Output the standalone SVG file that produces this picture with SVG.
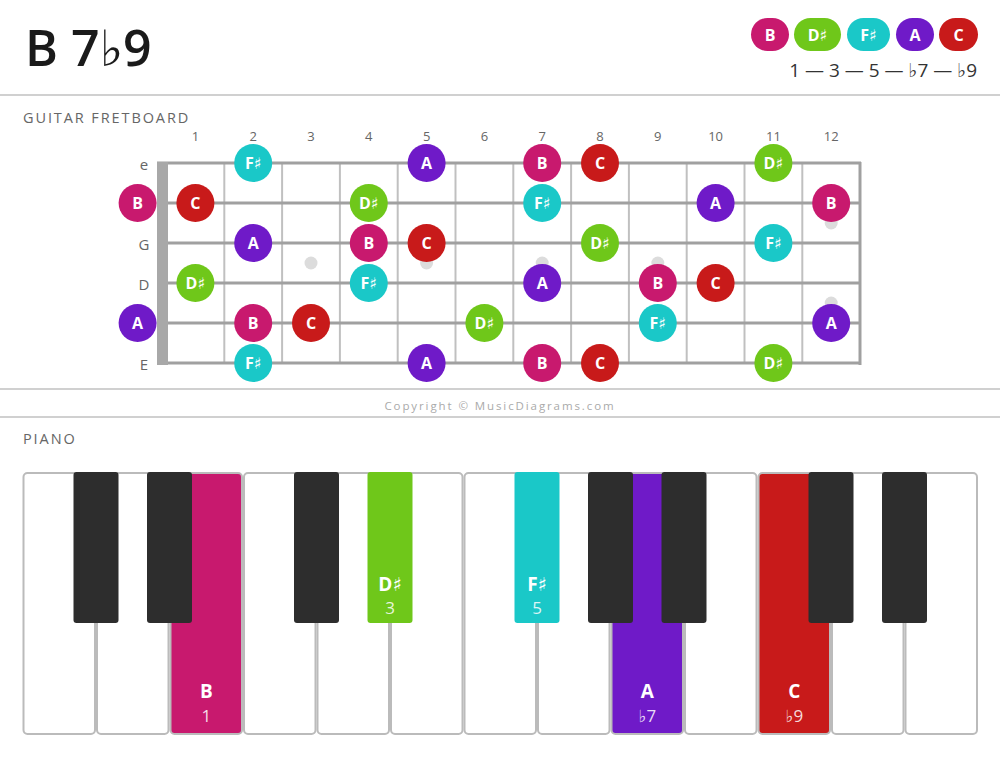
<svg xmlns="http://www.w3.org/2000/svg" width="1000" height="759" viewBox="0 0 1000 759">
<style>
text{font-family:"Open Sans","Noto Sans","DejaVu Sans",sans-serif}
.sep{stroke:#d0d0d0;stroke-width:2}
.sec{font-size:14.5px;fill:#666;letter-spacing:1.9px}
.fn{font-size:13px;fill:#666;text-anchor:middle}
.sl{font-size:15px;fill:#666;text-anchor:middle;dominant-baseline:central}
.str{stroke:#a0a0a0;stroke-width:3}
.fret{stroke:#c0c0c0;stroke-width:2}
.dot{fill:#dcdcdc}
.nt{font-size:16px;font-weight:bold;fill:#fff;text-anchor:middle;dominant-baseline:central}
.wk{fill:#fff;stroke:#bbb;stroke-width:2}
.bk{fill:#2d2d2d}
.cB{fill:#c8196e}.cD{fill:#6fc71a}.cF{fill:#1ac8c8}.cA{fill:#6f1ac8}.cC{fill:#c81a1a}
.pl{font-size:19px;font-weight:bold;fill:#fff;text-anchor:middle}
.pn{font-size:17px;fill:#fff;fill-opacity:0.85;text-anchor:middle}
</style>
<rect width="1000" height="759" fill="#fff"/>
<g id="title"><text x="25" y="66" font-size="50" font-weight="600" fill="#1a1a1a">B 7♭9</text></g>
<g id="legend">
<rect x="751" y="18" width="38" height="33" rx="16.5" class="cB"/><text x="770" y="34.5" class="nt">B</text>
<rect x="794" y="18" width="47" height="33" rx="16.5" class="cD"/><text x="817.5" y="34.5" class="nt">D♯</text>
<rect x="847" y="18" width="43" height="33" rx="16.5" class="cF"/><text x="868.5" y="34.5" class="nt">F♯</text>
<rect x="896" y="18" width="38" height="33" rx="16.5" class="cA"/><text x="915" y="34.5" class="nt">A</text>
<rect x="939" y="18" width="39" height="33" rx="16.5" class="cC"/><text x="958.5" y="34.5" class="nt">C</text>
<text x="977" y="77" font-size="19" fill="#333" text-anchor="end">1 — 3 — 5 — ♭7 — ♭9</text>
</g>
<line x1="0" y1="95" x2="1000" y2="95" class="sep"/>
<text x="23" y="123" class="sec">GUITAR FRETBOARD</text>
<g id="fretboard">
<g id="fret-numbers">
<text x="195.4" y="141" class="fn">1</text><text x="253.2" y="141" class="fn">2</text><text x="311" y="141" class="fn">3</text><text x="368.8" y="141" class="fn">4</text><text x="426.6" y="141" class="fn">5</text><text x="484.4" y="141" class="fn">6</text><text x="542.2" y="141" class="fn">7</text><text x="600" y="141" class="fn">8</text><text x="657.8" y="141" class="fn">9</text><text x="715.6" y="141" class="fn">10</text><text x="773.4" y="141" class="fn">11</text><text x="831.2" y="141" class="fn">12</text>
</g>
<g id="string-labels">
<text x="144" y="164" class="sl">e</text><text x="144" y="244" class="sl">G</text><text x="144" y="284" class="sl">D</text><text x="144" y="364" class="sl">E</text>
</g>
<g id="dots">
<circle cx="311" cy="263" r="6.5" class="dot"/><circle cx="426.6" cy="263" r="6.5" class="dot"/><circle cx="542.2" cy="263" r="6.5" class="dot"/><circle cx="657.8" cy="263" r="6.5" class="dot"/><circle cx="831.2" cy="223" r="6.5" class="dot"/><circle cx="831.2" cy="303" r="6.5" class="dot"/>
</g>
<g id="frets">
<line x1="224.3" y1="163" x2="224.3" y2="363" class="fret"/><line x1="282.1" y1="163" x2="282.1" y2="363" class="fret"/><line x1="339.9" y1="163" x2="339.9" y2="363" class="fret"/><line x1="397.7" y1="163" x2="397.7" y2="363" class="fret"/><line x1="455.5" y1="163" x2="455.5" y2="363" class="fret"/><line x1="513.3" y1="163" x2="513.3" y2="363" class="fret"/><line x1="571.1" y1="163" x2="571.1" y2="363" class="fret"/><line x1="628.9" y1="163" x2="628.9" y2="363" class="fret"/><line x1="686.7" y1="163" x2="686.7" y2="363" class="fret"/><line x1="744.5" y1="163" x2="744.5" y2="363" class="fret"/><line x1="802.3" y1="163" x2="802.3" y2="363" class="fret"/><line x1="860" y1="162" x2="860" y2="365" stroke="#a0a0a0" stroke-width="3"/>
</g>
<g id="strings">
<line x1="157" y1="163" x2="861" y2="163" class="str"/><line x1="157" y1="203" x2="861" y2="203" class="str"/><line x1="157" y1="243" x2="861" y2="243" class="str"/><line x1="157" y1="283" x2="861" y2="283" class="str"/><line x1="157" y1="323" x2="861" y2="323" class="str"/><line x1="157" y1="363" x2="861" y2="363" class="str"/>
</g>
<rect id="nut" x="157" y="162" width="11" height="203" fill="#a8a8a8"/>
<g id="notes">
<circle cx="253.2" cy="163" r="19" class="cF"/><text x="253.2" y="163" class="nt">F♯</text>
<circle cx="426.6" cy="163" r="19" class="cA"/><text x="426.6" y="163" class="nt">A</text>
<circle cx="542.2" cy="163" r="19" class="cB"/><text x="542.2" y="163" class="nt">B</text>
<circle cx="600" cy="163" r="19" class="cC"/><text x="600" y="163" class="nt">C</text>
<circle cx="773.4" cy="163" r="19" class="cD"/><text x="773.4" y="163" class="nt">D♯</text>

<circle cx="137.6" cy="203" r="19" class="cB"/><text x="137.6" y="203" class="nt">B</text>
<circle cx="195.4" cy="203" r="19" class="cC"/><text x="195.4" y="203" class="nt">C</text>
<circle cx="368.8" cy="203" r="19" class="cD"/><text x="368.8" y="203" class="nt">D♯</text>
<circle cx="542.2" cy="203" r="19" class="cF"/><text x="542.2" y="203" class="nt">F♯</text>
<circle cx="715.6" cy="203" r="19" class="cA"/><text x="715.6" y="203" class="nt">A</text>
<circle cx="831.2" cy="203" r="19" class="cB"/><text x="831.2" y="203" class="nt">B</text>

<circle cx="253.2" cy="243" r="19" class="cA"/><text x="253.2" y="243" class="nt">A</text>
<circle cx="368.8" cy="243" r="19" class="cB"/><text x="368.8" y="243" class="nt">B</text>
<circle cx="426.6" cy="243" r="19" class="cC"/><text x="426.6" y="243" class="nt">C</text>
<circle cx="600" cy="243" r="19" class="cD"/><text x="600" y="243" class="nt">D♯</text>
<circle cx="773.4" cy="243" r="19" class="cF"/><text x="773.4" y="243" class="nt">F♯</text>

<circle cx="195.4" cy="283" r="19" class="cD"/><text x="195.4" y="283" class="nt">D♯</text>
<circle cx="368.8" cy="283" r="19" class="cF"/><text x="368.8" y="283" class="nt">F♯</text>
<circle cx="542.2" cy="283" r="19" class="cA"/><text x="542.2" y="283" class="nt">A</text>
<circle cx="657.8" cy="283" r="19" class="cB"/><text x="657.8" y="283" class="nt">B</text>
<circle cx="715.6" cy="283" r="19" class="cC"/><text x="715.6" y="283" class="nt">C</text>

<circle cx="137.6" cy="323" r="19" class="cA"/><text x="137.6" y="323" class="nt">A</text>
<circle cx="253.2" cy="323" r="19" class="cB"/><text x="253.2" y="323" class="nt">B</text>
<circle cx="311" cy="323" r="19" class="cC"/><text x="311" y="323" class="nt">C</text>
<circle cx="484.4" cy="323" r="19" class="cD"/><text x="484.4" y="323" class="nt">D♯</text>
<circle cx="657.8" cy="323" r="19" class="cF"/><text x="657.8" y="323" class="nt">F♯</text>
<circle cx="831.2" cy="323" r="19" class="cA"/><text x="831.2" y="323" class="nt">A</text>

<circle cx="253.2" cy="363" r="19" class="cF"/><text x="253.2" y="363" class="nt">F♯</text>
<circle cx="426.6" cy="363" r="19" class="cA"/><text x="426.6" y="363" class="nt">A</text>
<circle cx="542.2" cy="363" r="19" class="cB"/><text x="542.2" y="363" class="nt">B</text>
<circle cx="600" cy="363" r="19" class="cC"/><text x="600" y="363" class="nt">C</text>
<circle cx="773.4" cy="363" r="19" class="cD"/><text x="773.4" y="363" class="nt">D♯</text>
</g>
</g>
<line x1="0" y1="389" x2="1000" y2="389" class="sep"/>
<text x="500" y="410" font-size="11.5" fill="#aaa" text-anchor="middle" letter-spacing="1.9">Copyright © MusicDiagrams.com</text>
<line x1="0" y1="417" x2="1000" y2="417" class="sep"/>
<text x="23" y="444" class="sec">PIANO</text>
<g id="piano">
<g id="white-keys">
<rect x="23.5" y="473" width="71.5" height="261" rx="4" class="wk"/>
<rect x="97" y="473" width="71.5" height="261" rx="4" class="wk"/>
<rect x="170.5" y="473" width="71.5" height="261" rx="4" class="wk cB"/>
<rect x="244" y="473" width="71.5" height="261" rx="4" class="wk"/>
<rect x="317.5" y="473" width="71.5" height="261" rx="4" class="wk"/>
<rect x="391" y="473" width="71.5" height="261" rx="4" class="wk"/>
<rect x="464.5" y="473" width="71.5" height="261" rx="4" class="wk"/>
<rect x="538" y="473" width="71.5" height="261" rx="4" class="wk"/>
<rect x="611.5" y="473" width="71.5" height="261" rx="4" class="wk cA"/>
<rect x="685" y="473" width="71.5" height="261" rx="4" class="wk"/>
<rect x="758.5" y="473" width="71.5" height="261" rx="4" class="wk cC"/>
<rect x="832" y="473" width="71.5" height="261" rx="4" class="wk"/>
<rect x="905.5" y="473" width="71.5" height="261" rx="4" class="wk"/>
</g>
<g id="black-keys">
<rect x="73.5" y="472" width="45" height="151" rx="3" class="bk"/>
<rect x="147" y="472" width="45" height="151" rx="3" class="bk"/>
<rect x="294" y="472" width="45" height="151" rx="3" class="bk"/>
<rect x="367.5" y="472" width="45" height="151" rx="3" class="cD"/>
<rect x="514.5" y="472" width="45" height="151" rx="3" class="cF"/>
<rect x="588" y="472" width="45" height="151" rx="3" class="bk"/>
<rect x="661.5" y="472" width="45" height="151" rx="3" class="bk"/>
<rect x="808.5" y="472" width="45" height="151" rx="3" class="bk"/>
<rect x="882" y="472" width="45" height="151" rx="3" class="bk"/>
</g>
<g id="key-labels">
<text x="206.3" y="698" class="pl">B</text><text x="206.3" y="722" class="pn">1</text>
<text x="390" y="591" class="pl">D♯</text><text x="390" y="614" class="pn">3</text>
<text x="537" y="591" class="pl">F♯</text><text x="537" y="614" class="pn">5</text>
<text x="647.3" y="698" class="pl">A</text><text x="647.3" y="722" class="pn">♭7</text>
<text x="794.3" y="698" class="pl">C</text><text x="794.3" y="722" class="pn">♭9</text>
</g>
</g>
</svg>
